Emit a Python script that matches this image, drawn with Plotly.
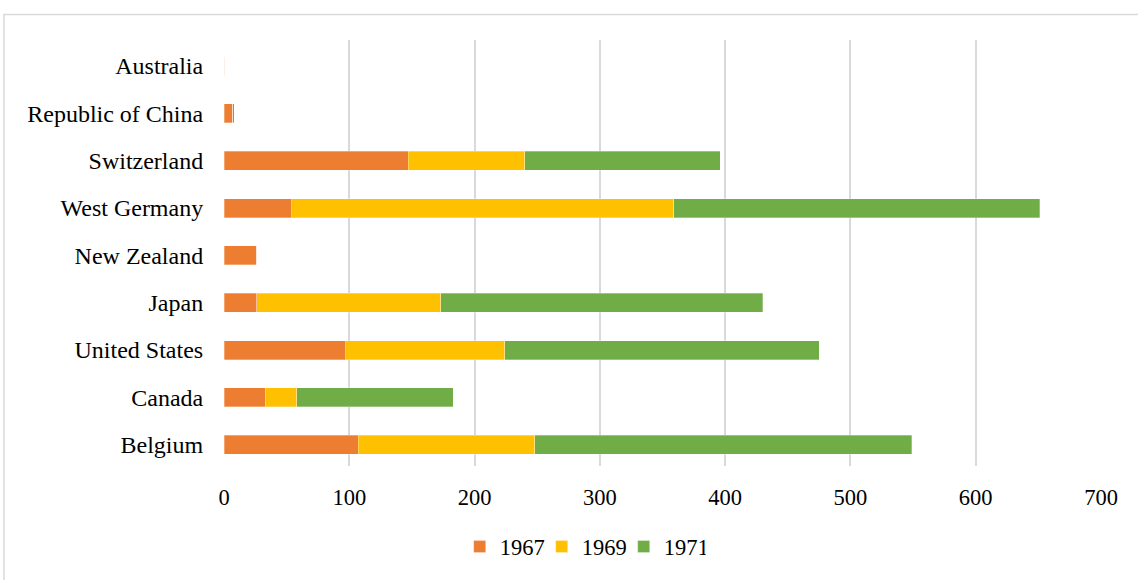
import plotly.graph_objects as go

# Countries, listed bottom to top as drawn on the category axis
countries = ["Belgium", "Canada", "United States", "Japan", "New Zealand",
             "West Germany", "Switzerland", "Republic of China", "Australia"]

# Values per year (stacked)
y1967 = [107, 33, 97, 26, 26, 54, 147, 7, 0.4]
y1969 = [141, 25, 127, 147, 0, 305, 93, 0, 0]
y1971 = [301, 125, 251, 257, 0, 292, 156, 1, 0]

x_ticks = [0, 100, 200, 300, 400, 500, 600, 700]

series = [("1967", y1967, "#ED7D31"),
          ("1969", y1969, "#FFC000"),
          ("1971", y1971, "#70AD47")]

FONT = "Liberation Serif"

fig = go.Figure()
for name, vals, color in series:
    fig.add_trace(go.Bar(
        y=countries, x=vals, name=name, orientation="h",
        marker=dict(color=color, line=dict(color="rgba(255,255,255,0.6)", width=0.5)),
    ))

fig.update_layout(
    barmode="stack",
    bargap=0.6,
    width=1138, height=580,
    margin=dict(l=224, r=37, t=40, b=108),
    paper_bgcolor="white",
    plot_bgcolor="white",
    font=dict(family=FONT, size=22, color="#000000"),
    showlegend=True,
    legend=dict(
        orientation="h",
        x=0.409, xanchor="center",
        y=-0.19, yanchor="middle",
        entrywidth=37, entrywidthmode="pixels",
        font=dict(family=FONT, size=22.5, color="#000000"),
        traceorder="normal",
    ),
    xaxis=dict(
        range=[0, 700],
        tickvals=x_ticks,
        ticktext=[str(v) for v in x_ticks],
        showgrid=True, gridcolor="#D9D9D9", gridwidth=2,
        zeroline=False, showline=False,
        ticks="outside", ticklen=11, tickcolor="rgba(0,0,0,0)",
        tickfont=dict(family=FONT, size=22.5, color="#000000"),
    ),
    yaxis=dict(
        categoryorder="array", categoryarray=countries,
        range=[-0.45, 8.55],
        showgrid=False, zeroline=False,
        showline=False,
        ticks="outside", ticklen=15, tickcolor="rgba(0,0,0,0)",
        tickfont=dict(family=FONT, size=24, color="#000000"),
    ),
    shapes=[
        # outer chart frame
        dict(type="rect", xref="paper", yref="paper",
             x0=-0.2509, x1=1.2, y0=-0.4, y1=1.060,
             line=dict(color="#D9D9D9", width=1.5), fillcolor="rgba(0,0,0,0)",
             layer="below"),
    ],
)

fig.write_html("out.html")
